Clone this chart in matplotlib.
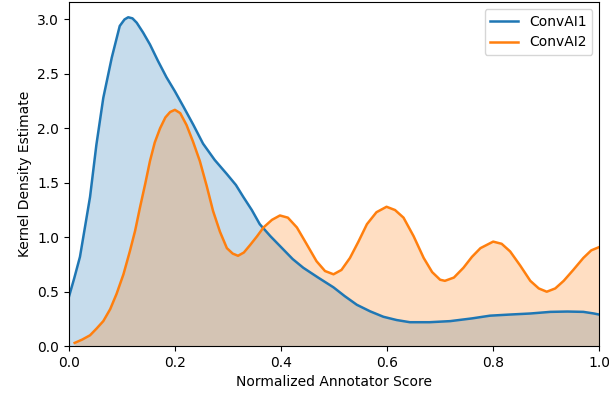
import matplotlib
matplotlib.use("Agg")
import matplotlib.pyplot as plt

# values
conv1_x = [0.0, 0.01, 0.021, 0.03, 0.040, 0.052, 0.065, 0.081, 0.096, 0.105, 0.112,
           0.12, 0.128, 0.14, 0.153, 0.168, 0.184, 0.20, 0.216, 0.235, 0.253, 0.275,
           0.298, 0.315, 0.329, 0.345, 0.36, 0.38, 0.404, 0.422, 0.442, 0.47, 0.499,
           0.52, 0.543, 0.568, 0.593, 0.618, 0.643, 0.68, 0.719, 0.76, 0.794, 0.83,
           0.87, 0.908, 0.94, 0.97, 0.99, 1.0]
conv1_y = [0.45, 0.62, 0.82, 1.08, 1.37, 1.85, 2.28, 2.65, 2.94, 3.00, 3.02,
           3.01, 2.97, 2.88, 2.77, 2.62, 2.47, 2.34, 2.20, 2.03, 1.86, 1.71,
           1.58, 1.48, 1.37, 1.25, 1.12, 1.01, 0.89, 0.80, 0.72, 0.63, 0.54,
           0.46, 0.38, 0.32, 0.27, 0.24, 0.22, 0.22, 0.23, 0.255, 0.28, 0.29,
           0.30, 0.315, 0.318, 0.315, 0.30, 0.29]

conv2_x = [0.011, 0.025, 0.04, 0.052, 0.065, 0.078, 0.09, 0.103, 0.115, 0.125, 0.134,
           0.144, 0.153, 0.162, 0.172, 0.182, 0.191, 0.20, 0.21, 0.222, 0.234, 0.247,
           0.26, 0.272, 0.285, 0.298, 0.309, 0.319, 0.33, 0.342, 0.355, 0.367, 0.383,
           0.398, 0.413, 0.43, 0.448, 0.467, 0.483, 0.499, 0.514, 0.53, 0.546, 0.562,
           0.58, 0.599, 0.615, 0.631, 0.65, 0.669, 0.685, 0.70, 0.709, 0.726, 0.744,
           0.76, 0.776, 0.80, 0.816, 0.832, 0.851, 0.87, 0.886, 0.901, 0.917, 0.933,
           0.951, 0.97, 0.985, 1.0]
conv2_y = [0.03, 0.06, 0.10, 0.16, 0.23, 0.34, 0.48, 0.66, 0.87, 1.06, 1.27,
           1.49, 1.70, 1.87, 2.00, 2.10, 2.15, 2.17, 2.14, 2.03, 1.88, 1.70,
           1.47, 1.24, 1.05, 0.90, 0.85, 0.83, 0.86, 0.93, 1.01, 1.09, 1.16,
           1.20, 1.18, 1.09, 0.94, 0.78, 0.69, 0.66, 0.70, 0.81, 0.96, 1.12,
           1.23, 1.28, 1.25, 1.18, 1.01, 0.81, 0.68, 0.61, 0.60, 0.63, 0.72,
           0.82, 0.90, 0.96, 0.94, 0.87, 0.74, 0.60, 0.53, 0.50, 0.53, 0.60,
           0.70, 0.81, 0.88, 0.91]

BLUE = "#1f77b4"
ORANGE = "#ff7f0e"

fig = plt.figure(figsize=(6.09, 4.03), dpi=100)
ax = fig.add_axes([0.113, 0.141, 0.871, 0.854])

ax.fill_between(conv1_x, conv1_y, color=BLUE, alpha=0.25, lw=0)
ax.plot(conv1_x, conv1_y, color=BLUE, lw=1.8, label="ConvAI1")
ax.fill_between(conv2_x, conv2_y, color=ORANGE, alpha=0.25, lw=0)
ax.plot(conv2_x, conv2_y, color=ORANGE, lw=1.8, label="ConvAI2")

ax.set_xlim(0, 1.0)
ax.set_ylim(0, 3.16)
ax.set_xticks([0.0, 0.2, 0.4, 0.6, 0.8, 1.0])
ax.set_yticks([0.0, 0.5, 1.0, 1.5, 2.0, 2.5, 3.0])
ax.set_xlabel("Normalized Annotator Score")
ax.set_ylabel("Kernel Density Estimate")
ax.legend(loc="upper right")

fig.savefig("out.png", dpi=100)
